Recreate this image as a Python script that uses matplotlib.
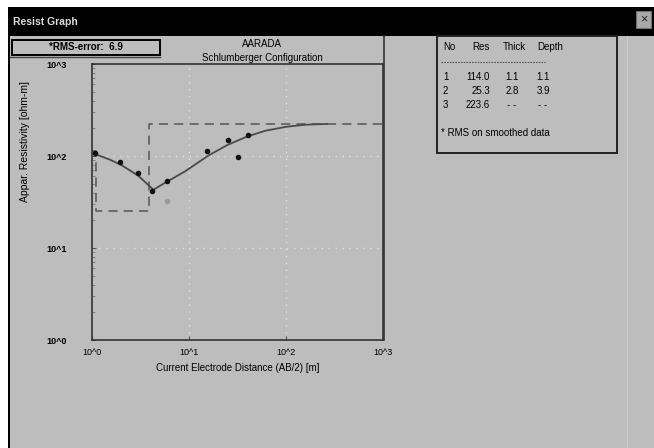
import matplotlib
matplotlib.use("Agg")
import matplotlib.pyplot as plt
from matplotlib.patches import Rectangle
from matplotlib.lines import Line2D

plt.rcParams['font.family'] = ['Liberation Sans', 'DejaVu Sans']

# ---- data ----
# measured apparent resistivity (AB/2 [m], rho_a [ohm-m])
meas_x = [1.07, 1.94, 3.0, 4.12, 6.0, 15.2, 25.0, 31.8, 40.3]
meas_y = [108.7, 85.4, 64.9, 41.6, 54.0, 114.2, 149.0, 96.8, 169.0]
faint_x = [6.0]
faint_y = [32.7]
# smoothed model response
curve_x = [1.0, 1.5, 2.0, 3.0, 4.3, 6.0, 9.1, 15.8, 25.0, 39.3, 61.0, 101.0, 160.0, 265.0]
curve_y = [108, 92, 80, 61, 43, 53, 68, 101, 132, 162, 188, 208, 219, 223]
# layered model: resistivities and depths
layer_res = [114.0, 25.3, 223.6]
layer_thick = ["1.1", "2.8", "- -"]
layer_depth = ["1.1", "3.9", "- -"]
depth_vals = [1.1, 3.9]
rms_error = 6.9
x_ticks = [1, 10, 100, 1000]
x_ticklabels = ["10^0", "10^1", "10^2", "10^3"]
y_ticks = [1, 10, 100, 1000]
y_ticklabels = ["10^0", "10^1", "10^2", "10^3"]

W, H = 654, 448
BG = '#bdbdbd'
fig = plt.figure(figsize=(W / 100, H / 100), dpi=100)
fig.patch.set_facecolor(BG)

# overlay axes in pixel coords (y downward)
ov = fig.add_axes([0, 0, 1, 1], zorder=0)
ov.set_xlim(0, W)
ov.set_ylim(H, 0)
ov.axis('off')

def rect(x0, y0, x1, y1, fc='none', ec='none', lw=1.0, z=1):
    ov.add_patch(Rectangle((x0, y0), x1 - x0, y1 - y0, fc=fc, ec=ec, lw=lw, zorder=z))

# white outside the window
rect(0, 0, W, 7, fc='white', z=1)
rect(0, 0, 8, H, fc='white', z=1)
# black border left
rect(8, 7, 10, H, fc='black', z=2)
# title bar
rect(8, 7, W, 36, fc='black', z=2)
ov.text(13, 22, "Resist Graph", color='#dddddd', fontsize=7.5, fontweight='bold', va='center', ha='left', zorder=3)
# close button
rect(636, 11, 651, 28, fc='#a8a8a8', ec='#707070', lw=0.8, z=3)
ov.text(643.5, 19.5, "×", color='#222222', fontsize=9, ha='center', va='center', zorder=4)

# RMS box
rect(12, 40, 160, 55, fc=BG, ec='black', lw=1.4, z=3)
ov.text(86, 47.5, f"*RMS-error:  {rms_error:.1f}", fontsize=7, ha='center', va='center', zorder=4, fontweight='bold')
ov.add_line(Line2D([10, 160], [57, 57], color='#444444', lw=1.0, zorder=3))

# title
ov.text(262, 44, "AARADA", fontsize=7, ha='center', va='center', zorder=4)
ov.text(262, 58, "Schlumberger Configuration", fontsize=7, ha='center', va='center', zorder=4)

# panel borders
ov.add_line(Line2D([384, 384], [36, 340], color='#333333', lw=1.2, zorder=3))
ov.add_line(Line2D([627, 627], [36, H], color='#cacaca', lw=0.8, zorder=3))

# table box
rect(437, 36, 617, 153, fc=BG, ec='#222222', lw=1.4, z=3)
hdr_x = [443, 472, 503, 537]
ov.text(hdr_x[0], 47, "No", fontsize=7, va='center', zorder=4)
ov.text(hdr_x[1], 47, "Res", fontsize=7, va='center', zorder=4)
ov.text(hdr_x[2], 47, "Thick", fontsize=7, va='center', zorder=4)
ov.text(hdr_x[3], 47, "Depth", fontsize=7, va='center', zorder=4)
ov.add_line(Line2D([441, 545], [62, 62], color='#555555', lw=0.8, ls=(0, (1.5, 1)), zorder=4))
row_y = [77, 91, 105]
for i in range(3):
    ov.text(hdr_x[0], row_y[i], str(i + 1), fontsize=7, va='center', zorder=4)
    ov.text(490, row_y[i], f"{layer_res[i]:.1f}", fontsize=7, va='center', ha='right', zorder=4)
    ov.text(512, row_y[i], layer_thick[i], fontsize=7, va='center', ha='center', zorder=4)
    ov.text(543, row_y[i], layer_depth[i], fontsize=7, va='center', ha='center', zorder=4)
ov.text(hdr_x[0] - 2, 133, "* RMS on smoothed data", fontsize=7, va='center', zorder=4)

# ---- main plot ----
L, R, T, B = 92, 383, 64, 340
ax = fig.add_axes([L / W, (H - B) / H, (R - L) / W, (B - T) / H], zorder=2)
ax.set_facecolor(BG)
ax.set_xscale('log')
ax.set_yscale('log')
ax.set_xlim(1, 1000)
ax.set_ylim(1, 1000)

# grid
for v in [10, 100]:
    ax.axvline(v, color='#e2e2e2', lw=1.0, ls=(0, (1, 4)), zorder=1)
    ax.axhline(v, color='#e2e2e2', lw=1.0, ls=(0, (1, 4)), zorder=1)

# layered model (dashed step)
mx = [1.0, depth_vals[0], depth_vals[0], depth_vals[1], depth_vals[1], 1000]
my = [layer_res[0], layer_res[0], layer_res[1], layer_res[1], layer_res[2], layer_res[2]]
ax.plot(mx, my, color='#555555', lw=1.1, ls=(0, (6, 4)), zorder=2)

# smoothed curve
ax.plot(curve_x, curve_y, color='#4a4a4a', lw=1.3, zorder=3)

# measured points
ax.plot(meas_x, meas_y, 'o', color='#111111', ms=3, zorder=4)
ax.plot(faint_x, faint_y, 'o', color='#999999', ms=3, zorder=4)

for s in ax.spines.values():
    s.set_color('#333333')
    s.set_linewidth(1.2)

ax.set_xticks(x_ticks)
ax.set_xticklabels(x_ticklabels, fontsize=6.5)
ax.set_yticks(y_ticks)
ax.set_yticklabels(y_ticklabels, fontsize=6.5)
ax.tick_params(axis='both', which='major', direction='in', length=3, color='#555555', pad=6)
ax.tick_params(axis='x', which='minor', bottom=False)
ax.tick_params(axis='y', which='minor', direction='in', length=2, color='#777777')
ax.yaxis.set_tick_params(pad=18)
for lab in ax.get_yticklabels():
    lab.set_fontweight('bold')
ax.set_xlabel("Current Electrode Distance (AB/2) [m]", fontsize=7, labelpad=4)
ax.set_ylabel("Appar. Resistivity [ohm-m]", fontsize=7.5)
ax.yaxis.set_label_coords(-(L - 30) / (R - L), 0.72)

fig.savefig("out.png", dpi=100, facecolor=fig.get_facecolor())
